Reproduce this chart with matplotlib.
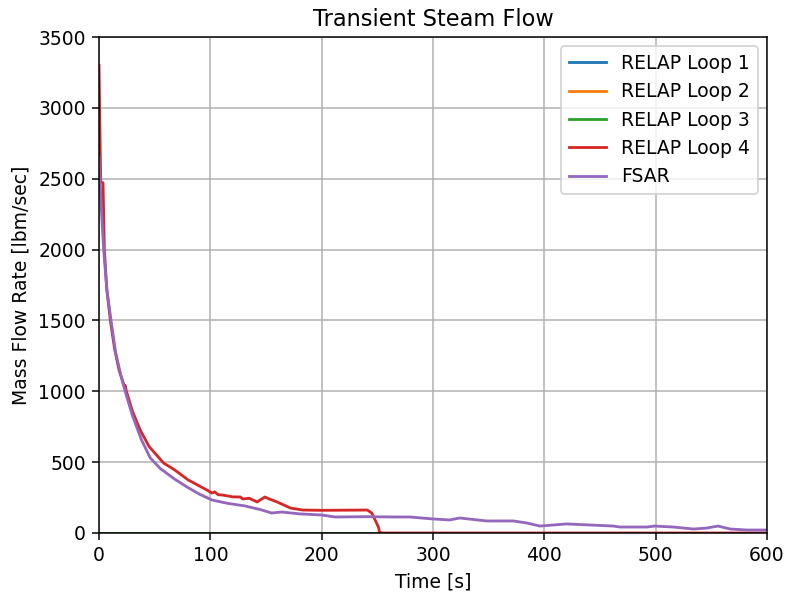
import matplotlib.pyplot as plt
import numpy as np

# RELAP loops 1-3 stay at zero over the whole transient
time_zero = [0, 600]
loop1 = [0, 0]
loop2 = [0, 0]
loop3 = [0, 0]

# RELAP loop 4
time_l4 = [0, 1.5, 3.6, 4.8, 7, 10.2, 14, 18, 23, 23.6, 24.5, 25, 30, 37, 45, 58, 68, 80, 97,
           101.5, 104, 107, 111, 120, 127, 129, 135, 142, 149, 153, 160, 172, 183, 200, 241,
           245, 248, 251, 252, 255, 600]
loop4 = [3300, 2480, 2470, 2000, 1720, 1500, 1300, 1150, 1030, 1040, 1000, 990, 860, 727, 610,
         494, 445, 375, 303, 282, 290, 270, 268, 255, 254, 240, 245, 219, 254, 240, 219, 176,
         162, 160, 162, 141, 92, 42, 5, 0, 0]

# FSAR curve
time_fsar = [0, 2, 4.2, 7, 10.8, 15, 20, 25, 30, 38, 46, 55, 68, 79, 90, 101.5, 115, 131, 145,
             155, 164, 180, 200, 212, 240, 266, 279, 300, 315, 324, 340, 348, 372, 384, 396,
             420, 462, 468, 492, 499, 516, 534, 546, 556, 567, 582, 600]
fsar = [2650, 2300, 2000, 1720, 1500, 1270, 1100, 960, 830, 660, 530, 455, 380, 325, 275, 233,
        210, 191, 165, 141, 148, 135, 127, 113, 115, 113, 113, 99, 92, 106, 92, 85, 85, 71, 49,
        64, 49, 42, 42, 49, 42, 28, 35, 49, 28, 21, 21]

fig = plt.figure(figsize=(787 / 135, 598 / 135), dpi=135)
ax = fig.add_axes([0.1258, 0.1087, 0.8488, 0.8294])

ax.plot(time_zero, loop1, color='tab:blue', label='RELAP Loop 1')
ax.plot(time_zero, loop2, color='tab:orange', label='RELAP Loop 2')
ax.plot(time_zero, loop3, color='tab:green', label='RELAP Loop 3')
ax.plot(time_l4, loop4, color='tab:red', label='RELAP Loop 4')
ax.plot(time_fsar, fsar, color='tab:purple', label='FSAR')

ax.set_xlim(0, 600)
ax.set_ylim(0, 3500)
ax.set_xticks(np.arange(0, 601, 100))
ax.set_yticks(np.arange(0, 3501, 500))
ax.grid(True)
ax.set_title('Transient Steam Flow')
ax.set_xlabel('Time [s]')
ax.set_ylabel('Mass Flow Rate [lbm/sec]')
ax.legend(loc='upper right')

fig.savefig('out.png', dpi=135)
